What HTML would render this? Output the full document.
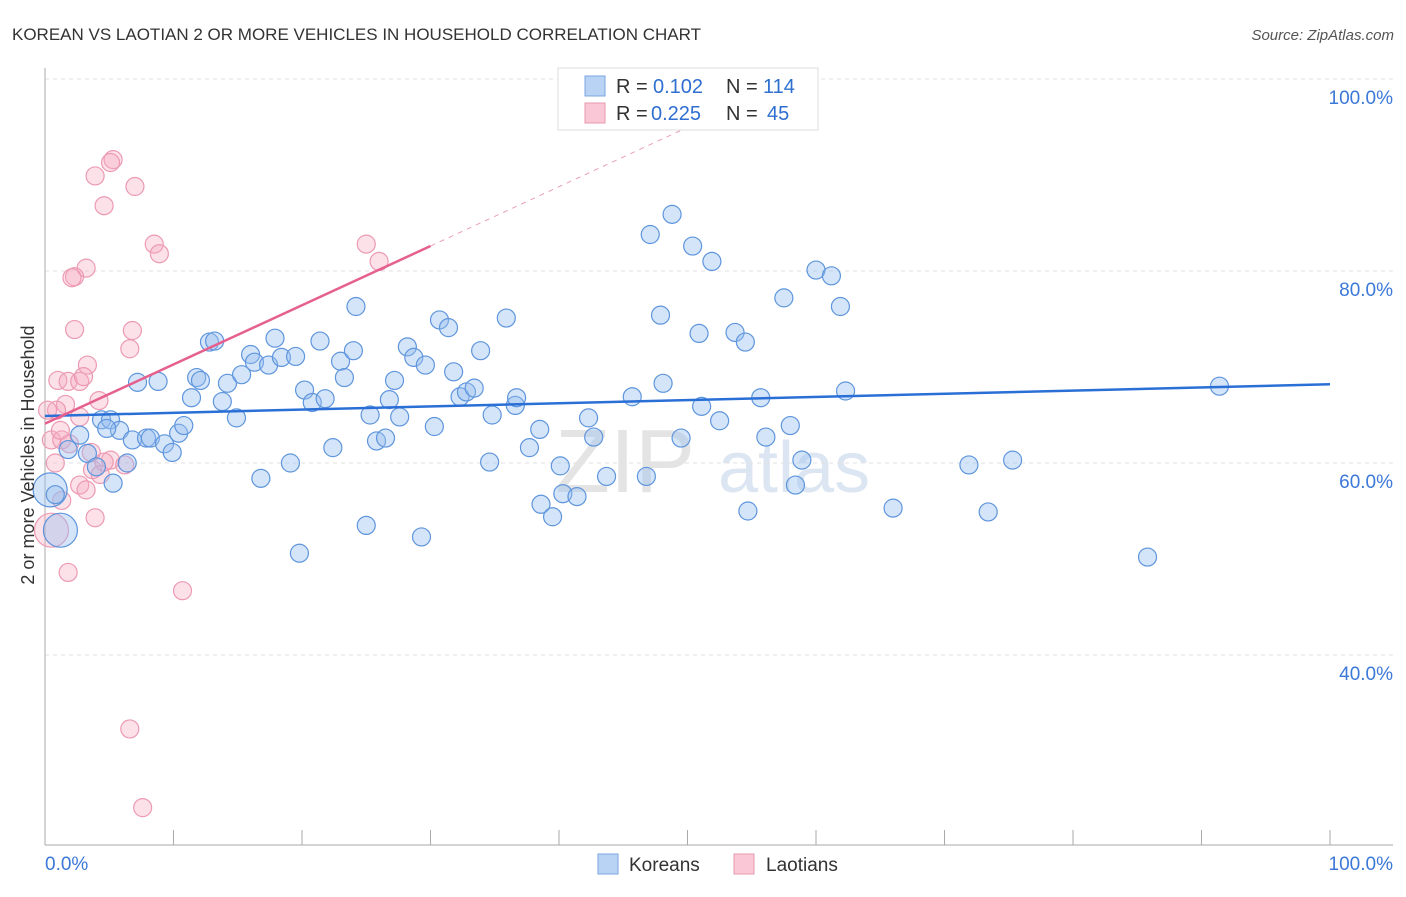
<!DOCTYPE html>
<html><head><meta charset="utf-8"><style>
body{margin:0;background:#fff;font-family:"Liberation Sans",sans-serif}
svg text{font-family:"Liberation Sans",sans-serif}
</style></head><body>
<svg id="c" width="1406" height="892">
<text x="12" y="40" font-size="17" fill="#333">KOREAN VS LAOTIAN 2 OR MORE VEHICLES IN HOUSEHOLD CORRELATION CHART</text>
<text x="1394" y="40" font-size="15" fill="#555" font-style="italic" text-anchor="end">Source: ZipAtlas.com</text>
<text x="555" y="492" font-size="90" fill="#e4e4e4" font-family="Liberation Serif">ZIP</text>
<text x="718" y="492" font-size="72" fill="#dce6f2">atlas</text>
<g id="grid"></g><g id="axes"></g><g id="pts"></g><g id="trend"></g>
<text transform="translate(34,455) rotate(-90)" font-size="18" fill="#333" text-anchor="middle">2 or more Vehicles in Household</text>
<g>
<rect x="558" y="68" width="260" height="62" fill="#fff" stroke="#ddd"/>
<rect x="585" y="76" width="20" height="20" fill="#b9d3f5" stroke="#7aa6e0"/>
<text x="616" y="93" font-size="20" fill="#333">R =</text>
<text x="653" y="93" font-size="20" fill="#2f6fd0">0.102</text>
<text x="726" y="93" font-size="20" fill="#333">N =</text>
<text x="763" y="93" font-size="20" fill="#2f6fd0">114</text>
<rect x="585" y="103" width="20" height="20" fill="#f9c7d5" stroke="#e89ab0"/>
<text x="616" y="120" font-size="20" fill="#333">R =</text>
<text x="651" y="120" font-size="20" fill="#2f6fd0">0.225</text>
<text x="726" y="120" font-size="20" fill="#333">N =</text>
<text x="767" y="120" font-size="20" fill="#2f6fd0">45</text>
</g>
<g>
<rect x="598" y="854" width="20" height="20" fill="#b9d3f5" stroke="#7aa6e0"/>
<text x="629" y="871" font-size="19" fill="#333">Koreans</text>
<rect x="734" y="854" width="20" height="20" fill="#f9c7d5" stroke="#e89ab0"/>
<text x="766" y="871" font-size="19" fill="#333">Laotians</text>
</g>
</svg>
<script>
const yTicks=[40,60,80,100];
const yTickLabels=["40.0%","60.0%","80.0%","100.0%"];
const xTickLabels=["0.0%","100.0%"];
const koreanX=[1.8,2.7,3.3,4.0,4.4,5.1,5.3,5.8,6.4,6.8,7.2,7.9,8.2,8.8,9.3,9.9,10.4,10.8,11.4,11.8,12.1,12.8,13.2,13.8,14.2,14.9,15.3,16.0,16.3,16.8,17.4,17.9,18.4,19.1,19.5,19.8,20.2,20.8,21.4,21.8,22.4,23.0,23.3,24.0,24.2,25.0,25.3,25.8,26.5,26.8,27.2,27.6,28.2,28.7,29.3,29.6,30.3,30.7,31.4,31.8,32.3,32.8,33.4,33.9,34.6,34.8,35.9,36.6,36.7,37.7,38.5,38.6,39.5,40.1,40.3,41.4,42.3,42.7,43.7,45.7,46.8,47.1,47.9,48.1,48.8,49.5,50.4,50.9,51.1,51.9,52.5,53.7,54.5,54.7,55.7,56.1,57.5,58.0,58.4,58.9,60.0,61.2,61.9,62.3,66.0,71.9,73.4,75.3,85.8,91.4,0.4,1.2,0.8,4.8];
const koreanY=[61.4,62.9,61.0,59.6,64.5,64.5,57.9,63.4,60.0,62.4,68.4,62.6,62.6,68.5,62.0,61.1,63.1,63.9,66.8,68.9,68.6,72.6,72.7,66.4,68.3,64.7,69.2,71.3,70.5,58.4,70.2,73.0,71.0,60.0,71.1,50.6,67.6,66.3,72.7,66.7,61.6,70.6,68.9,71.7,76.3,53.5,65.0,62.3,62.6,66.6,68.6,64.8,72.1,71.0,52.3,70.2,63.8,74.9,74.1,69.5,66.9,67.4,67.8,71.7,60.1,65.0,75.1,66.0,66.8,61.6,63.5,55.7,54.4,59.7,56.8,56.5,64.7,62.7,58.6,66.9,58.6,83.8,75.4,68.3,85.9,62.6,82.6,73.5,65.9,81.0,64.4,73.6,72.6,55.0,66.8,62.7,77.2,63.9,57.7,60.3,80.1,79.5,76.3,67.5,55.3,59.8,54.9,60.3,50.2,68.0,57.2,53.0,56.7,63.6];
const laoX=[5.3,5.1,3.9,7.0,4.6,8.5,8.9,25.0,26.0,3.2,2.3,2.1,2.3,6.8,6.6,3.3,1.0,1.8,2.7,3.0,1.6,4.2,0.9,2.7,0.5,1.3,1.2,3.6,5.1,6.2,3.7,4.3,2.7,1.3,3.9,1.8,10.7,6.6,7.6,0.5,0.8,1.9,4.6,3.2,0.2];
const laoY=[91.6,91.3,89.9,88.8,86.8,82.8,81.8,82.8,81.0,80.3,79.4,79.3,73.9,73.8,71.9,70.2,68.6,68.5,68.5,69.0,66.1,66.5,65.5,64.8,62.4,62.4,63.4,61.1,60.3,59.8,59.3,58.8,57.7,56.1,54.3,48.6,46.7,32.3,24.1,53.0,60.0,62.0,60.1,57.2,65.5];
const koreanTrend=[[0,64.9],[100,68.2]];
const laoTrend=[[0,64.1],[30,82.6]];
const laoTrendExt=[[30,82.6],[52,96.2]];
const NS="http://www.w3.org/2000/svg";
const X=v=>45+v*12.85, Y=v=>1039-v*9.6;
function mk(p,t,a){const e=document.createElementNS(NS,t);for(const k in a)e.setAttribute(k,a[k]);p.appendChild(e);return e;}
const grid=document.getElementById('grid'),axes=document.getElementById('axes'),pts=document.getElementById('pts'),tr=document.getElementById('trend');
yTicks.forEach((t,i)=>{
 const l=mk(grid,'line',{x1:45,x2:1393,y1:Y(t),y2:Y(t),stroke:'#e2e2e2','stroke-dasharray':'4,4'});
 
 
 const tx=mk(grid,'text',{x:1393,y:Y(t)+25,'font-size':19,fill:'#3b78d8','text-anchor':'end'});
 tx.textContent=yTickLabels[i];
 
 
});
const ya=mk(axes,'line',{x1:45,x2:45,y1:68,y2:845,stroke:'#aaa'});


const xa=mk(axes,'line',{x1:45,x2:1393,y1:845,y2:845,stroke:'#aaa'});


for(let i=1;i<=10;i++){const t=mk(axes,'line',{x1:X(i*10),x2:X(i*10),y1:830,y2:845,stroke:'#aaa'});
 
 }
[[0,'start',45],[100,'end',1393]].forEach((d,i)=>{const t=mk(axes,'text',{x:d[2],y:870,'font-size':19,fill:'#3b78d8','text-anchor':d[1]});t.textContent=xTickLabels[i];
 
 });
laoX.forEach((x,i)=>{const big=(i===39);const c=mk(pts,'circle',{cx:X(x),cy:Y(laoY[i]),r:big?17:9,fill:'rgba(245,170,192,0.35)',stroke:'#ec9ab3','stroke-width':1.2});
 
 });
koreanX.forEach((x,i)=>{const big=i>=koreanX.length-4&&i<koreanX.length-2;const c=mk(pts,'circle',{cx:X(x),cy:Y(koreanY[i]),r:big?17:9,fill:'rgba(150,190,240,0.4)',stroke:'#5e95dc','stroke-width':1.2});
 
 });
const kl=mk(tr,'line',{x1:X(koreanTrend[0][0]),y1:Y(koreanTrend[0][1]),x2:X(koreanTrend[1][0]),y2:Y(koreanTrend[1][1]),stroke:'#2a6fd6','stroke-width':2.5});


const ll=mk(tr,'line',{x1:X(laoTrend[0][0]),y1:Y(laoTrend[0][1]),x2:X(laoTrend[1][0]),y2:Y(laoTrend[1][1]),stroke:'#e5608e','stroke-width':2.5});


const le=mk(tr,'line',{x1:X(laoTrendExt[0][0]),y1:Y(laoTrendExt[0][1]),x2:X(laoTrendExt[1][0]),y2:Y(laoTrendExt[1][1]),stroke:'#eaa0b8','stroke-width':1,'stroke-dasharray':'5,5'});


</script>
</body></html>
